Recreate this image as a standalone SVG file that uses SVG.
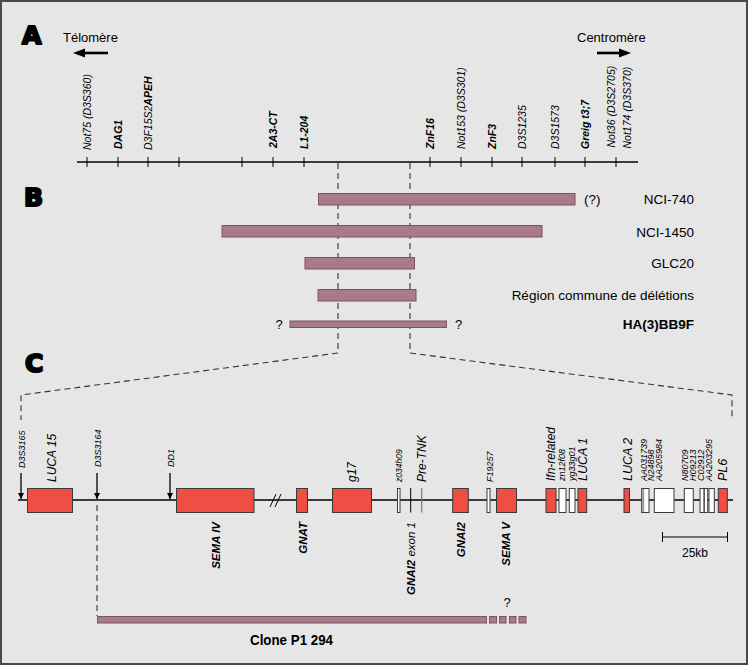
<svg xmlns="http://www.w3.org/2000/svg" width="750" height="666" viewBox="0 0 750 666">
<defs>
<style>
text{font-family:"Liberation Sans",Arial,sans-serif;fill:#000}
.it{font-style:italic}
.b{font-weight:bold}
.sec{font-family:"DejaVu Sans",sans-serif;font-weight:bold;font-size:25px;stroke:#000;stroke-width:2.2;stroke-linejoin:round}
.ta{font-size:10.5px;font-style:italic}
.tb{font-size:13px}
.tr{font-size:13.5px}
.s9{font-size:9px;font-style:italic}
.s12{font-size:12px;font-style:italic}
.bl{font-size:11.5px;font-style:italic;font-weight:bold}
.bar{fill:#a77b89;stroke:#7d5364;stroke-width:1}
.red{fill:#ef4e45;stroke:#3a3a3a;stroke-width:1}
.wht{fill:#ffffff;stroke:#3a3a3a;stroke-width:1}
.dash{fill:none;stroke:#333;stroke-width:1.1;stroke-dasharray:6,4}
.ax{stroke:#000;stroke-width:1.3;fill:none}
.tk{stroke:#000;stroke-width:1}
</style>
<marker id="ah" viewBox="0 0 10 10" refX="10" refY="5" markerWidth="6" markerHeight="7" orient="auto" markerUnits="userSpaceOnUse">
<path d="M0,0 L10,5 L0,10 z" fill="#000"/>
</marker>
</defs>
<rect x="0" y="0" width="750" height="666" fill="#fff"/>
<rect x="1" y="1" width="746" height="663" fill="#e6e6e6" stroke="#4a4a4a" stroke-width="2"/>

<g id="section-labels">
<text class="sec" x="22" y="44">A</text>
<text class="sec" x="24" y="206">B</text>
<text class="sec" x="25" y="372">C</text>
</g>

<g id="orientation">
<text class="tb" x="63" y="42">Télomère</text>
<line x1="108" y1="53" x2="84" y2="53" stroke="#000" stroke-width="2.6"/>
<polygon points="73,53 85,48.5 85,57.5" fill="#000"/>
<text class="tb" x="577" y="42">Centromère</text>
<line x1="597" y1="53" x2="620" y2="53" stroke="#000" stroke-width="2.6"/>
<polygon points="631,53 619,48.5 619,57.5" fill="#000"/>
</g>

<g id="axis-A">
<line class="ax" x1="77" y1="162" x2="638" y2="162"/>
<g class="tk">
<line x1="87" y1="157" x2="87" y2="167"/>
<line x1="118" y1="157" x2="118" y2="167"/>
<line x1="148" y1="157" x2="148" y2="167"/>
<line x1="179" y1="157" x2="179" y2="167"/>
<line x1="242" y1="157" x2="242" y2="167"/>
<line x1="273" y1="157" x2="273" y2="167"/>
<line x1="304" y1="157" x2="304" y2="167"/>
<line x1="430" y1="157" x2="430" y2="167"/>
<line x1="461" y1="157" x2="461" y2="167"/>
<line x1="492" y1="157" x2="492" y2="167"/>
<line x1="522" y1="157" x2="522" y2="167"/>
<line x1="555" y1="157" x2="555" y2="167"/>
<line x1="585" y1="157" x2="585" y2="167"/>
<line x1="616" y1="157" x2="616" y2="167"/>
</g>
<text class="ta" transform="translate(91,150) rotate(-90)">Not75 (D3S360)</text>
<text class="ta b" transform="translate(121.5,149) rotate(-90)">DAG1</text>
<text class="ta" transform="translate(152,150) rotate(-90)">D3F15S2<tspan class="b">APEH</tspan></text>
<text class="ta b" transform="translate(276.5,148) rotate(-90)">2A3-CT</text>
<text class="ta b" transform="translate(307.5,149) rotate(-90)">L1-204</text>
<text class="ta b" transform="translate(433.5,149) rotate(-90)">ZnF16</text>
<text class="ta" transform="translate(464.5,149) rotate(-90)">Not153 (D3S301)</text>
<text class="ta b" transform="translate(495.5,149) rotate(-90)">ZnF3</text>
<text class="ta" transform="translate(525.5,149) rotate(-90)">D3S1235</text>
<text class="ta" transform="translate(558.5,149) rotate(-90)">D3S1573</text>
<text class="ta b" transform="translate(588.5,149) rotate(-90)">Greig t3;7</text>
<text class="ta" transform="translate(615,147.5) rotate(-90)">Not36 (D3S2705)</text>
<text class="ta" transform="translate(630.5,148.5) rotate(-90)">Not174 (D3S370)</text>
</g>

<g id="connectors">
<polyline class="dash" points="338,163 338,353 21,395 21,420"/>
<polyline class="dash" points="410,163 410,353 732,395 732,420"/>
<line class="dash" x1="97" y1="505" x2="97" y2="616"/>
<line x1="21" y1="473" x2="21" y2="499" stroke="#000" stroke-width="1.3" marker-end="url(#ah)"/>
<line x1="97" y1="473" x2="97" y2="499" stroke="#000" stroke-width="1.3" marker-end="url(#ah)"/>
<line x1="170" y1="473" x2="170" y2="499" stroke="#000" stroke-width="1.3" marker-end="url(#ah)"/>
</g>

<g id="nci-740">
<rect class="bar" x="318.5" y="193.5" width="256.5" height="11.5"/>
<text class="tr" x="584" y="204">(?)</text>
<text class="tr" x="694" y="204" text-anchor="end">NCI-740</text>
</g>
<g id="nci-1450">
<rect class="bar" x="222" y="225.5" width="320" height="11.5"/>
<text class="tr" x="694" y="237" text-anchor="end">NCI-1450</text>
</g>
<g id="glc20">
<rect class="bar" x="305" y="257.5" width="109.5" height="11.5"/>
<text class="tr" x="694" y="268" text-anchor="end">GLC20</text>
</g>
<g id="region-commune">
<rect class="bar" x="318" y="289.5" width="98" height="11.5"/>
<text class="tr" x="694" y="300" text-anchor="end">Région commune de délétions</text>
</g>
<g id="ha3bb9f">
<rect class="bar" x="290" y="321" width="156.5" height="6.5"/>
<text class="tb" x="279" y="329" text-anchor="middle">?</text>
<text class="tb" x="458.5" y="329" text-anchor="middle">?</text>
<text class="tr b" x="694" y="329" text-anchor="end">HA(3)BB9F</text>
</g>

<g id="map-C">
<line x1="18" y1="500" x2="733" y2="500" stroke="#000" stroke-width="1.4"/>
<line x1="270" y1="507" x2="276" y2="494" stroke="#000" stroke-width="1"/>
<line x1="275" y1="507" x2="281" y2="494" stroke="#000" stroke-width="1"/>
</g>

<g id="d3s3165"><text class="s9" transform="translate(25,468) rotate(-90)">D3S3165</text></g>
<g id="luca15"><rect class="red" x="27.5" y="488.5" width="45" height="24"/><text class="s12" transform="translate(55.5,482) rotate(-90)">LUCA 15</text></g>
<g id="d3s3164"><text class="s9" transform="translate(101,467) rotate(-90)">D3S3164</text></g>
<g id="dd1"><text class="s9" transform="translate(173.5,467) rotate(-90)">DD1</text></g>
<g id="sema4"><rect class="red" x="176.5" y="488.5" width="77.5" height="24"/><text class="bl" text-anchor="end" transform="translate(220,522) rotate(-90)">SEMA IV</text></g>
<g id="gnat"><rect class="red" x="296.5" y="488.5" width="11" height="24"/><text class="bl" text-anchor="end" transform="translate(306.5,522) rotate(-90)">GNAT</text></g>
<g id="g17"><rect class="red" x="332.5" y="488.5" width="39" height="24"/><text class="s12" transform="translate(356,482) rotate(-90)">g17</text></g>
<g id="z034h09"><rect class="wht" x="397.5" y="488.5" width="2.5" height="24"/><text class="it" style="font-size:8.5px" transform="translate(401.5,482) rotate(-90)">z034h09</text></g>
<g id="gnai2-exon1"><line x1="410.7" y1="488" x2="410.7" y2="512.5" stroke="#000" stroke-width="1"/><text class="it" style="font-size:11.5px" text-anchor="end" transform="translate(414.5,522) rotate(-90)"><tspan class="b">GNAI2</tspan> exon 1</text></g>
<g id="pre-tnk"><line x1="421.7" y1="488" x2="421.7" y2="512.5" stroke="#777" stroke-width="1.2"/><text class="s12" transform="translate(425.5,482) rotate(-90)">Pre-TNK</text></g>
<g id="gnai2"><rect class="red" x="452.7" y="488.5" width="15.6" height="24"/><text class="bl" text-anchor="end" transform="translate(465,522) rotate(-90)">GNAI2</text></g>
<g id="f19257"><rect class="wht" x="487" y="488.5" width="3" height="24"/><text class="s9" transform="translate(492.5,482) rotate(-90)">F19257</text></g>
<g id="sema5"><rect class="red" x="496.5" y="488.5" width="20" height="24"/><text class="bl" text-anchor="end" transform="translate(510,522) rotate(-90)">SEMA V</text></g>
<g id="ifn-related"><rect class="red" x="546" y="488.5" width="10" height="24"/><text class="s12" transform="translate(554.5,481) rotate(-90)">Ifn-related</text></g>
<g id="zn12f08"><rect class="wht" x="559" y="488.5" width="7" height="24"/><text class="s9" transform="translate(565,481) rotate(-90)">zn12f08</text></g>
<g id="yg33g01"><rect class="wht" x="569.3" y="488.5" width="5.7" height="24"/><text class="s9" transform="translate(574.5,481) rotate(-90)">yg33g01</text></g>
<g id="luca1"><rect class="red" x="578" y="488.5" width="8.7" height="24"/><text class="it" style="font-size:12.5px" transform="translate(586.5,481) rotate(-90)">LUCA 1</text></g>
<g id="luca2"><rect class="red" x="624" y="488.5" width="5.5" height="24"/><text class="it" style="font-size:12.5px" transform="translate(631.5,481) rotate(-90)">LUCA 2</text></g>
<g id="aa031739"><rect class="wht" x="641.7" y="488.5" width="7.3" height="24"/><rect x="642.2" y="489" width="2" height="23" fill="#999"/><text class="s9" transform="translate(646.5,481) rotate(-90)">AA031739</text><text class="s9" transform="translate(654,481) rotate(-90)">N24898</text></g>
<g id="aa205984"><rect class="wht" x="654.3" y="488.5" width="19.7" height="24"/><text class="s9" transform="translate(661.5,481) rotate(-90)">AA205984</text></g>
<g id="n80709"><rect class="wht" x="684.3" y="488.5" width="9" height="24"/><text class="s9" transform="translate(688,481) rotate(-90)">N80709</text><text class="s9" transform="translate(696,481) rotate(-90)">H09213</text></g>
<g id="c02912"><rect class="wht" x="700" y="488.5" width="4" height="24"/><rect class="wht" x="704.3" y="488.5" width="3.4" height="24"/><text class="s9" transform="translate(704,481) rotate(-90)">C02912</text></g>
<g id="aa203295"><rect class="wht" x="709" y="488.5" width="5.3" height="24"/><text class="s9" transform="translate(712,481) rotate(-90)">AA203295</text></g>
<g id="pl6"><rect class="red" x="718.3" y="488.5" width="9" height="24"/><text class="it" style="font-size:12.5px" transform="translate(726.5,481) rotate(-90)">PL6</text></g>

<g id="scale-bar">
<line x1="662.5" y1="537" x2="727.5" y2="537" stroke="#000" stroke-width="1"/>
<line x1="662.5" y1="532" x2="662.5" y2="542" stroke="#000" stroke-width="1"/>
<line x1="727.5" y1="532" x2="727.5" y2="542" stroke="#000" stroke-width="1"/>
<text style="font-size:12px" x="695" y="557" text-anchor="middle">25kb</text>
</g>

<g id="clone-p1-294">
<rect class="bar" x="97.5" y="616.5" width="389" height="6.5"/>
<rect class="bar" x="489.5" y="616.5" width="7" height="6.5"/>
<rect class="bar" x="499.5" y="616.5" width="6.5" height="6.5"/>
<rect class="bar" x="509.5" y="616.5" width="6.5" height="6.5"/>
<rect class="bar" x="519" y="616.5" width="7" height="6.5"/>
<text class="tb" x="507" y="607" text-anchor="middle">?</text>
<text class="b" style="font-size:14px" x="291.5" y="645" text-anchor="middle" textLength="83" lengthAdjust="spacingAndGlyphs">Clone P1 294</text>
</g>
</svg>
